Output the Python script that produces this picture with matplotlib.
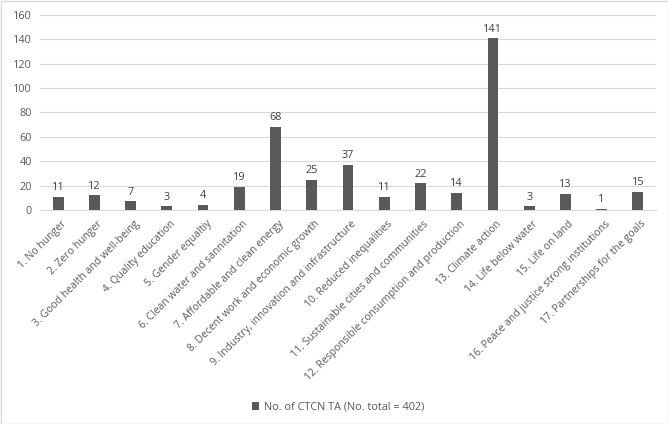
import matplotlib
matplotlib.use("Agg")
import matplotlib.pyplot as plt
import matplotlib.transforms as mtransforms
from matplotlib.patches import Rectangle

categories = [
    "1. No hunger", "2. Zero hunger", "3. Good health and well-being",
    "4. Quality education", "5. Gender equaltiy", "6. Clean water and sannitation",
    "7. Affordable and clean energy", "8. Decent work and economic growth",
    "9. Industry, innovation and infrastructure", "10. Reduced inequalities",
    "11. Sustainable cities and communities",
    "12. Responsible consumption and production", "13. Climate action",
    "14. Life below water", "15. Life on land",
    "16. Peace and justice strong institutions", "17. Partnerships for the goals",
]
values = [11, 12, 7, 3, 4, 19, 68, 25, 37, 11, 22, 14, 141, 3, 13, 1, 15]
series_name = "No. of CTCN TA (No. total = 402)"
yticks = [0, 20, 40, 60, 80, 100, 120, 140, 160]

plt.rcParams['font.family'] = ['Open Sans', 'DejaVu Sans']
txt = '#595959'
W, H = 668, 424
fig = plt.figure(figsize=(W/100, H/100), dpi=100)
ax = fig.add_axes([40/W, 1-210/H, (656-40)/W, (210-15)/H])

x = list(range(len(categories)))
bars = ax.bar(x, values, width=0.3, color='#595959', label=series_name, zorder=3)
for xi, v in zip(x, values):
    ax.text(xi, v + 3, str(v), ha='center', va='bottom', fontsize=7.8, color='#404040')

ax.set_xlim(-0.5, len(categories) - 0.5)
ax.set_ylim(0, 160)
ax.set_yticks(yticks)
ax.set_yticklabels([str(t) for t in yticks], fontsize=7.8, color=txt)
ax.set_xticks(x)
ax.set_xticklabels(categories, rotation=45, ha='right', va='top',
                   rotation_mode='anchor', fontsize=7.5, color=txt)
ax.tick_params(axis='both', length=0, pad=6)
ax.tick_params(axis='x', pad=6)
offset = mtransforms.ScaledTranslation(3/100, 0, fig.dpi_scale_trans)
for lbl in ax.get_xticklabels():
    lbl.set_transform(lbl.get_transform() + offset)
ax.grid(axis='y', color='#d9d9d9', linewidth=0.8, zorder=0)
for s in ['top', 'right', 'left']:
    ax.spines[s].set_visible(False)
ax.spines['bottom'].set_color('#d9d9d9')

fig.legend(handles=[bars], labels=[series_name], loc='center',
           bbox_to_anchor=(338/W, 1-407/H), frameon=False, fontsize=7.8,
           labelcolor=txt, handlelength=0.7, handleheight=0.7, handletextpad=0.4)

fig.patches.append(Rectangle((0.5/W, 0.5/H), 1-1/W, 1-1/H, transform=fig.transFigure,
                             fill=False, edgecolor='#d9d9d9', linewidth=1))
fig.savefig('out.png', dpi=100)
